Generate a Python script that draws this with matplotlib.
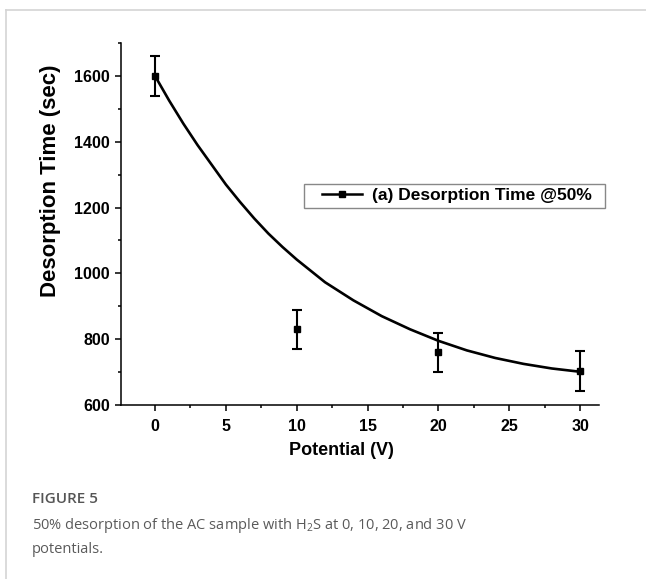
import matplotlib
matplotlib.use('Agg')
import matplotlib.pyplot as plt
from matplotlib.lines import Line2D
from matplotlib.patches import Rectangle
from matplotlib.ticker import MultipleLocator

# measured points (V, sec) with error bars
potential = [0, 10, 20, 30]
desorp_time = [1600, 830, 760, 703]
desorp_err = [60, 60, 60, 60]

# fitted decay curve
fit_x = [0, 1, 2, 3, 4, 5, 6, 7, 8, 9, 10, 12, 14, 16, 18, 20, 22, 24, 26, 28, 30]
fit_y = [1600, 1525, 1455, 1390, 1330, 1270, 1217, 1167, 1121, 1080, 1042,
         973, 918, 870, 830, 795, 766, 743, 725, 711, 701]

xticks = [0, 5, 10, 15, 20, 25, 30]
yticks = [600, 800, 1000, 1200, 1400, 1600]

plt.rcParams['font.family'] = ['Liberation Sans', 'DejaVu Sans']
plt.rcParams['mathtext.default'] = 'regular'

fig = plt.figure(figsize=(6.46, 5.79), dpi=100)
fig.patch.set_facecolor('white')
ax = fig.add_axes([0.1873, 0.3005, 0.740, 0.6252])

ax.plot(fit_x, fit_y, color='black', lw=1.9, zorder=3)
ax.errorbar(potential, desorp_time, yerr=desorp_err, fmt='s', color='black',
            ms=4.5, elinewidth=1.5, capsize=3.4, capthick=1.5, zorder=4)

ax.set_xlim(-2.4, 31.33)
ax.set_ylim(600, 1700)
ax.set_xticks(xticks)
ax.set_yticks(yticks)
ax.xaxis.set_minor_locator(MultipleLocator(2.5))
ax.yaxis.set_minor_locator(MultipleLocator(100))
for s in ['top', 'right']:
    ax.spines[s].set_visible(False)
for s in ['left', 'bottom']:
    ax.spines[s].set_linewidth(1.1)
ax.tick_params(which='major', direction='out', length=4, width=1.1,
               labelsize=11.5)
ax.tick_params(axis='x', which='major', pad=6)
ax.tick_params(axis='y', which='major', pad=4)
ax.tick_params(which='minor', direction='out', length=2.5, width=1.1)
for lab in ax.get_xticklabels() + ax.get_yticklabels():
    lab.set_fontweight('bold')

ax.set_xlabel('Potential (V)', fontsize=13, fontweight='bold')
ax.xaxis.set_label_coords(0.462, -0.103)
ax.set_ylabel('Desorption Time (sec)', fontsize=16, fontweight='bold')
ax.yaxis.set_label_coords(-0.125, 0.619)

# legend box drawn by hand (wide side padding as in the original)
ax.add_patch(Rectangle((0.383, 0.544), 0.6296, 0.0665, transform=ax.transAxes,
                       fill=False, ec='#888888', lw=1.0, clip_on=False, zorder=5))
handle = Line2D([], [], color='black', lw=1.8, marker='s', ms=4)
ax.legend([handle], ['(a) Desorption Time @50%'], loc='center left',
          bbox_to_anchor=(0.4205, 0.578), frameon=False, borderpad=0,
          borderaxespad=0, handlelength=2.3, handletextpad=0.58,
          prop={'weight': 'bold', 'size': 12.5})

# card border
fig.add_artist(Line2D([6 / 646, 6 / 646], [0, 1 - 10 / 579], color='#d4d4d4',
                      lw=1.2, transform=fig.transFigure))
fig.add_artist(Line2D([6 / 646, 1], [1 - 10 / 579, 1 - 10 / 579],
                      color='#d4d4d4', lw=1.2, transform=fig.transFigure))

# caption
cap_font = ['Open Sans', 'DejaVu Sans']
fig.text(32 / 646, 1 - 503 / 579, 'FIGURE 5', family=cap_font, fontsize=11,
         fontweight='semibold', color='#555555', va='baseline')
fig.text(32 / 646, 1 - 529 / 579,
         '50% desorption of the AC sample with H$_2$S at 0, 10, 20, and 30 V',
         family=cap_font, fontsize=10.5, color='#5a5a5a', va='baseline')
fig.text(32 / 646, 1 - 553 / 579, 'potentials.', family=cap_font,
         fontsize=10.5, color='#5a5a5a', va='baseline')

fig.savefig('out.png', dpi=100, facecolor='white')
